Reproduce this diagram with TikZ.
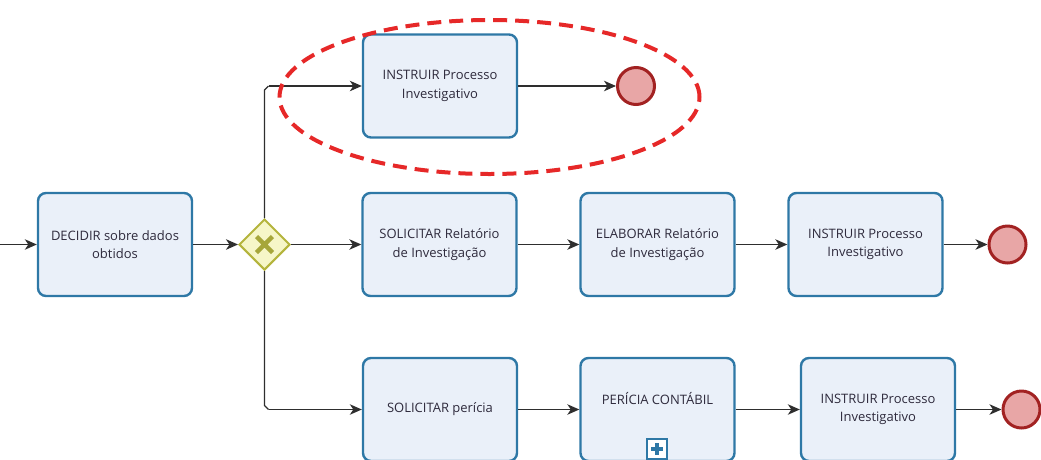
\documentclass[tikz,border=0pt]{standalone}
\usepackage{fontspec}
\newfontfamily\labfont{Open Sans}
\usetikzlibrary{arrows.meta,shapes.geometric,calc}

\definecolor{taskfill}{HTML}{EAF0F9}
\definecolor{taskline}{HTML}{2E78A6}
\definecolor{gwfill}{HTML}{F6F6C8}
\definecolor{gwline}{HTML}{B4B43C}
\definecolor{gwmark}{HTML}{A6A63A}
\definecolor{endfill}{HTML}{E8A6A6}
\definecolor{endline}{HTML}{A22222}
\definecolor{flowline}{HTML}{2E2E2E}
\definecolor{txt}{HTML}{2E2A3C}
\definecolor{hilite}{HTML}{E62828}

\tikzset{
  task/.style={draw=taskline, fill=taskfill, line width=2.4pt, rounded corners=8pt,
    minimum width=154pt, minimum height=103pt, align=center, text=txt,
    font=\labfont\fontsize{13}{18.5}\selectfont, inner sep=0pt},
  gateway/.style={diamond, draw=gwline, fill=gwfill, line width=2pt,
    minimum width=51pt, minimum height=51pt, inner sep=0pt},
  endevent/.style={circle, draw=endline, fill=endfill, line width=3pt,
    minimum size=37pt, inner sep=0pt},
  flow/.style={draw=flowline, line width=1.2pt,
    -{Stealth[length=12pt,width=10.5pt,inset=3.5pt]}},
  plain/.style={draw=flowline, line width=1.2pt},
  lab/.style={text=txt, font=\labfont\fontsize{13}{18.5}\selectfont, align=center}
}

\begin{document}
\begin{tikzpicture}[x=1pt,y=-1pt]
\useasboundingbox (0,0) rectangle (1041,459);

% incoming start of the flow
\coordinate (in) at (0,244.5);

% first task and decision gateway
\node[task] (decidir) at (115,244.5) {DECIDIR sobre dados\\obtidos};
\node[gateway] (gw) at (264.5,244.5) {};
\draw[gwmark, line width=4.5pt] ($(gw)+(-8,-8)$) -- ($(gw)+(8,8)$)
      ($(gw)+(-8,8)$) -- ($(gw)+(8,-8)$);

% upper branch
\node[task] (t1) at (440,86) {INSTRUIR Processo\\Investigativo};
\node[endevent] (e1) at (636,86) {};

% middle branch
\node[task] (s1) at (439.5,244.5) {SOLICITAR Relatório\\de Investigação};
\node[task] (el) at (657.5,244.5) {ELABORAR Relatório\\de Investigação};
\node[task] (in2) at (865.5,244.5) {INSTRUIR Processo\\Investigativo};
\node[endevent] (e2) at (1007.5,244.5) {};

% lower branch
\node[task] (sp) at (440,409.5) {SOLICITAR perícia};
\node[task, label={[lab, name=pclab, yshift=11pt]center:PERÍCIA CONTÁBIL}] (pc) at (657.5,409.5) {};
\node[draw=taskline, fill=white, line width=1.8pt, minimum size=20pt, inner sep=0pt] (pcmark) at (657,449) {};
\draw[taskline, line width=3.2pt] ($(pcmark)+(-6,0)$) -- ($(pcmark)+(6,0)$)
      ($(pcmark)+(0,-6)$) -- ($(pcmark)+(0,6)$);
\node[task] (in3) at (878,409.5) {INSTRUIR Processo\\Investigativo};
\node[endevent] (e3) at (1021.5,409.5) {};

% sequence flows
\draw[flow] (in) -- (decidir.west);
\draw[flow] (decidir.east) -- (gw.west);
\draw[plain] (gw.north) -- ($(gw.north |- t1.west)+(0,4)$) -- ($(gw.north |- t1.west)+(4,0)$);
\draw[flow] ($(gw.north |- t1.west)+(4,0)$) -- (t1.west);
\draw[flow] (gw.east) -- (s1.west);
\draw[plain] (gw.south) -- ($(gw.south |- sp.west)+(0,-4)$) -- ($(gw.south |- sp.west)+(4,0)$);
\draw[flow] ($(gw.south |- sp.west)+(4,0)$) -- (sp.west);

\draw[flow] (t1.east) -- (e1.west);
\draw[flow] (s1.east) -- (el.west);
\draw[flow] (el.east) -- (in2.west);
\draw[flow] (in2.east) -- (e2.west);
\draw[flow] (sp.east) -- (pc.west);
\draw[flow] (pc.east) -- (in3.west);
\draw[flow] (in3.east) -- (e3.west);

% highlight around the upper branch
\node[draw=hilite, line width=4pt, dash pattern=on 14pt off 8pt, ellipse,
      minimum width=420pt, minimum height=154pt, inner sep=0pt] (focus) at (489.5,97) {};
\end{tikzpicture}
\end{document}
